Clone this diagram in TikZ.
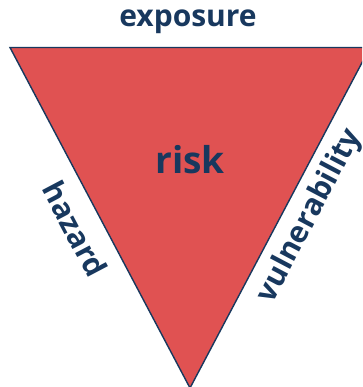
\documentclass[tikz,border=0pt]{standalone}
\usepackage{fontspec}
\setmainfont{Open Sans}
\definecolor{riskred}{RGB}{224,82,82}
\definecolor{navy}{RGB}{24,56,94}
\begin{document}
\begin{tikzpicture}[x=1pt,y=-1pt,
  lbl/.style={text=navy,font=\bfseries\fontsize{30}{36}\selectfont,inner sep=0pt},
  bigl/.style={text=navy,font=\bfseries\fontsize{37}{44}\selectfont,inner sep=0pt}]
\useasboundingbox (0,0) rectangle (362,387);
\clip (0,0) rectangle (362,387);
\coordinate (tl) at (10,47.5);
\coordinate (tr) at (370,47.5);
\coordinate (ap) at (190,388);
\draw[navy,line width=1.4pt,fill=riskred,line join=miter] (tl) -- (tr) -- (ap) -- cycle;
\node[lbl] (exposure) at (188,22) {exposure};
\node[bigl] (risk) at (190,160) {risk};
\node[lbl,rotate=-62.2] (hazard) at (75,229) {hazard};
\node[lbl,rotate=62.2] (vuln) at (310,216) {vulnerability};
\end{tikzpicture}
\end{document}
